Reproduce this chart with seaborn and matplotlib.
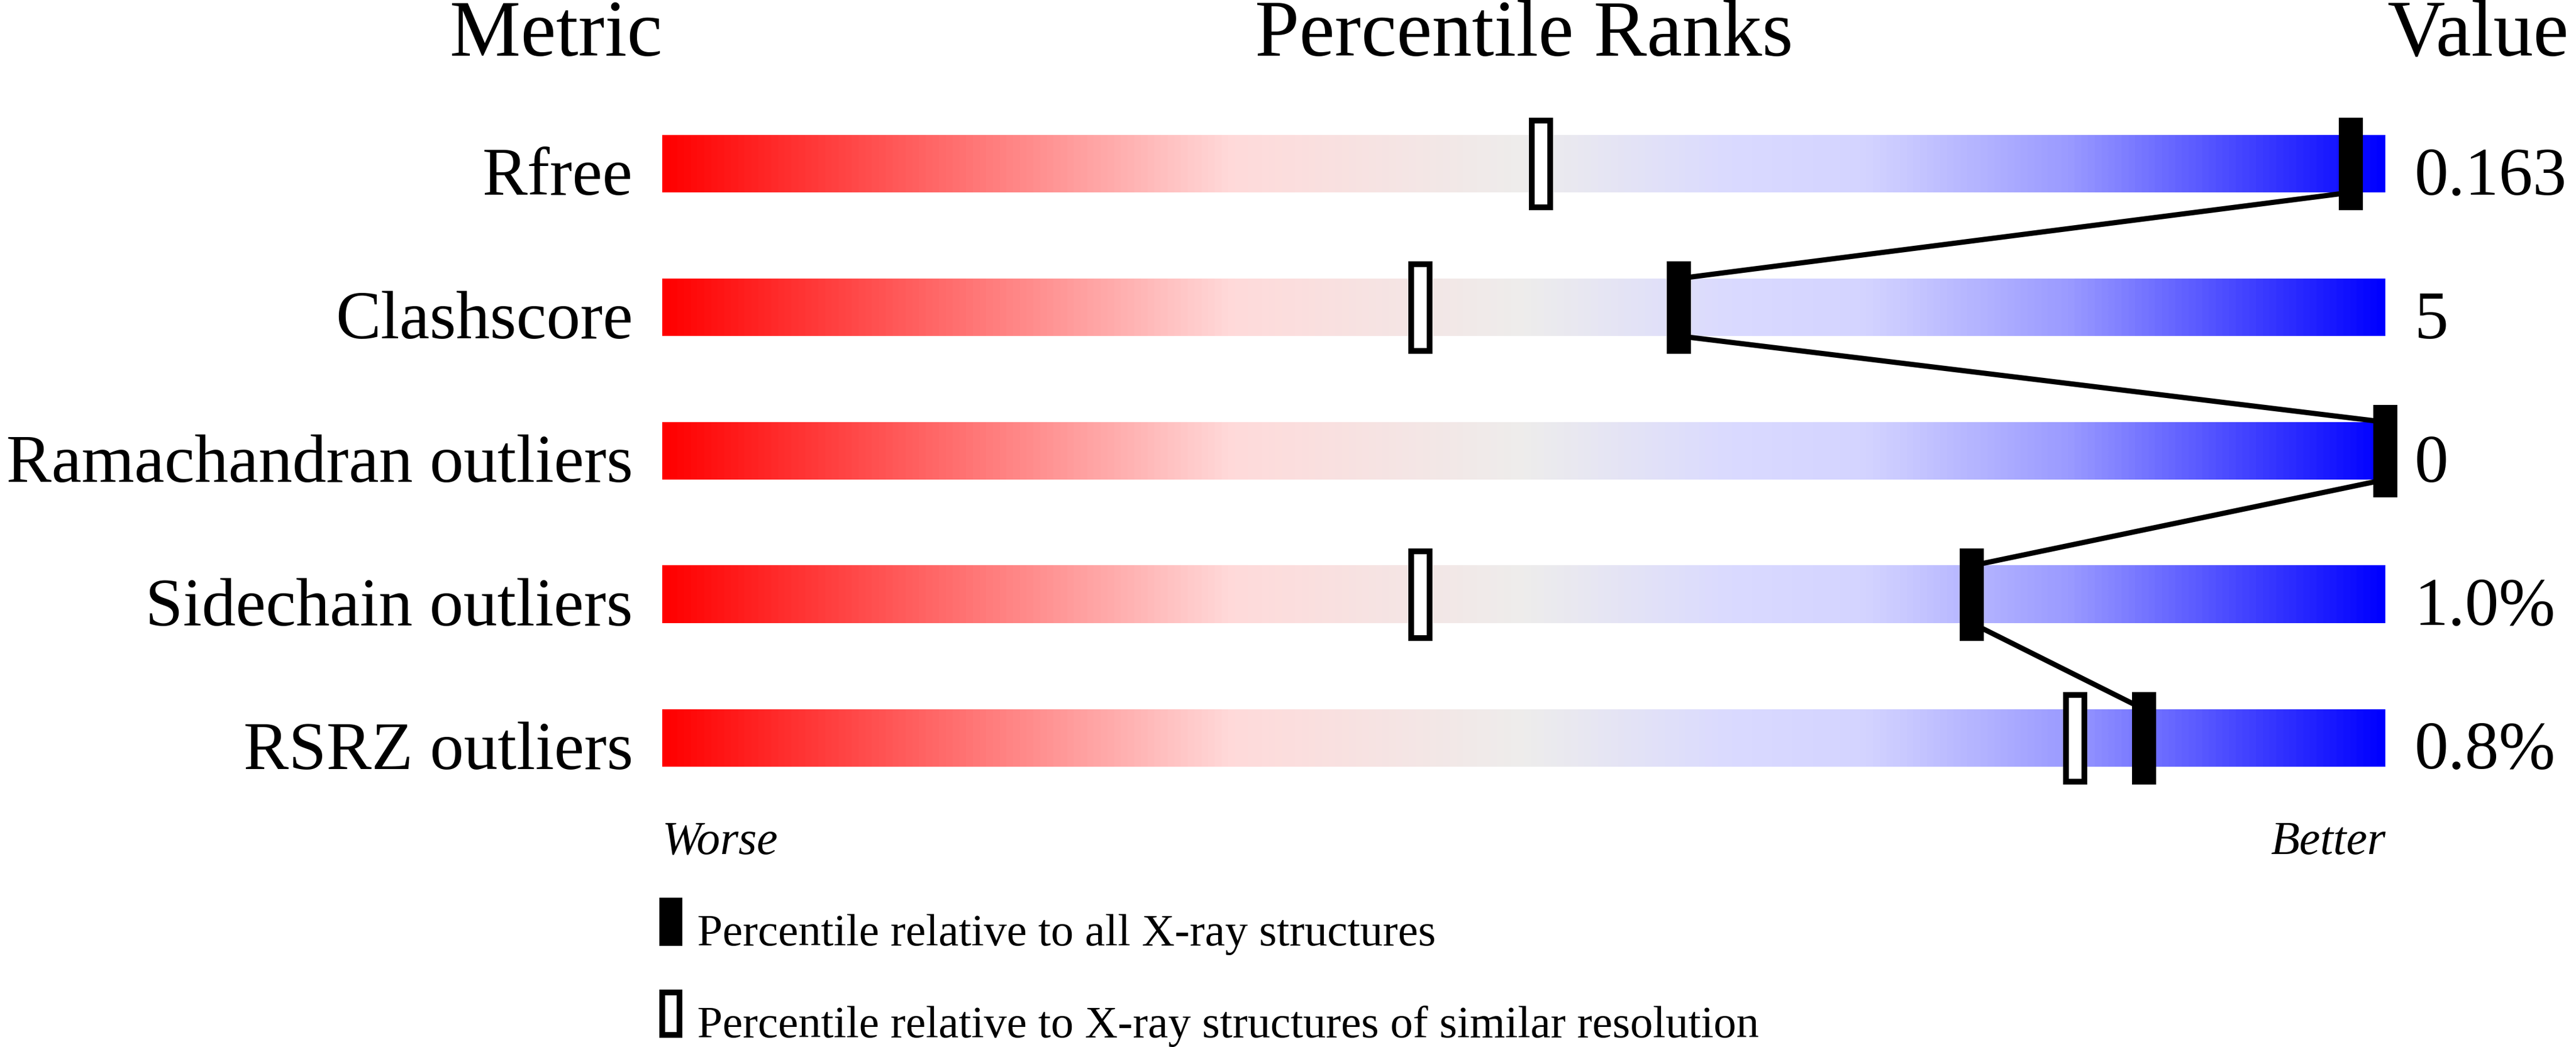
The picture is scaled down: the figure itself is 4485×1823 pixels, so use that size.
import numpy as np
import seaborn as sns
import matplotlib.pyplot as plt
from matplotlib.colors import LinearSegmentedColormap

metrics = ["Rfree", "Clashscore", "Ramachandran outliers", "Sidechain outliers", "RSRZ outliers"]
values = ["0.163", "5", "0", "1.0%", "0.8%"]
pct_all = [98, 59, 100, 76, 86]        # filled markers: all X-ray structures
pct_similar = [51, 44, 100, 44, 82]    # open markers: similar resolution
legend_labels = ["Percentile relative to all X-ray structures",
                 "Percentile relative to X-ray structures of similar resolution"]

sns.set_theme(style="white")
plt.rcParams['font.family'] = ['Liberation Serif', 'DejaVu Serif']
plt.rcParams['text.color'] = 'black'

fig = plt.figure(figsize=(44.85, 18.24), dpi=100)
# axes spans the bar column horizontally and the whole figure vertically
ax = fig.add_axes([1153 / 4485, 0, 3000 / 4485, 1])

cmap = LinearSegmentedColormap.from_list("wb", [
    (0.00, (1.00, 0.00, 0.00)),
    (0.33, (1.00, 0.855, 0.855)),
    (0.50, (0.933, 0.929, 0.925)),
    (0.62, (0.855, 0.855, 1.00)),
    (0.70, (0.83, 0.83, 1.00)),
    (0.82, (0.60, 0.60, 1.00)),
    (1.00, (0.00, 0.00, 1.00)),
])
grad = np.linspace(0, 1, 512).reshape(1, -1)

rows = np.arange(len(metrics))
half_bar = 0.2
half_mark = 0.302

for i in rows:
    ax.imshow(grad, cmap=cmap, aspect="auto", extent=(0, 100, i - half_bar, i + half_bar),
              interpolation="bilinear", zorder=1)

# connecting line between the filled markers
xs, ys = [], []
for i, p in zip(rows, pct_all):
    xs += [p, p]
    ys += [i - half_bar, i + half_bar]
sns.lineplot(x=xs, y=ys, sort=False, estimator=None, color="black", linewidth=6.5, ax=ax, zorder=2)

ax.bar(pct_similar, 2 * half_mark, bottom=rows - half_mark, width=1.05,
       color="white", edgecolor="black", linewidth=7.2, zorder=3, clip_on=False)
ax.bar(pct_all, 2 * half_mark, bottom=rows - half_mark, width=1.05,
       color="black", edgecolor="black", linewidth=7.2, zorder=4, clip_on=False)

for i, (m, v) in enumerate(zip(metrics, values)):
    ax.text(-1.7, i + 0.21, m, ha="right", va="baseline", fontsize=85, color="black")
    ax.text(101.7, i + 0.21, v, ha="left", va="baseline", fontsize=85, color="black")

ax.text(0, -0.756, "Metric", ha="right", va="baseline", fontsize=100, color="black")
ax.text(50, -0.756, "Percentile Ranks", ha="center", va="baseline", fontsize=100, color="black")
ax.text(100.1, -0.756, "Value", ha="left", va="baseline", fontsize=100, color="black")

ax.text(0, 4.804, "Worse", ha="left", va="baseline", fontsize=59, style="italic", color="black")
ax.text(100, 4.804, "Better", ha="right", va="baseline", fontsize=59, style="italic", color="black")

# legend
ax.bar([0.5], [0.36 - 0.067], bottom=[5.28 - 0.18 + 0.033], width=1.0,
       color="black", edgecolor="black", linewidth=7.2, clip_on=False)
ax.bar([0.5], [0.36 - 0.067], bottom=[5.92 - 0.18 + 0.033], width=1.0,
       color="white", edgecolor="black", linewidth=7.2, clip_on=False)
ax.text(2.03, 5.44, legend_labels[0], ha="left", va="baseline", fontsize=57, color="black")
ax.text(2.03, 6.08, legend_labels[1], ha="left", va="baseline", fontsize=57, color="black")

ax.set_xlim(0, 100)
ax.set_ylim(6.152, -1.144)
ax.set_axis_off()

fig.savefig("out.png", dpi=100, facecolor="white")
